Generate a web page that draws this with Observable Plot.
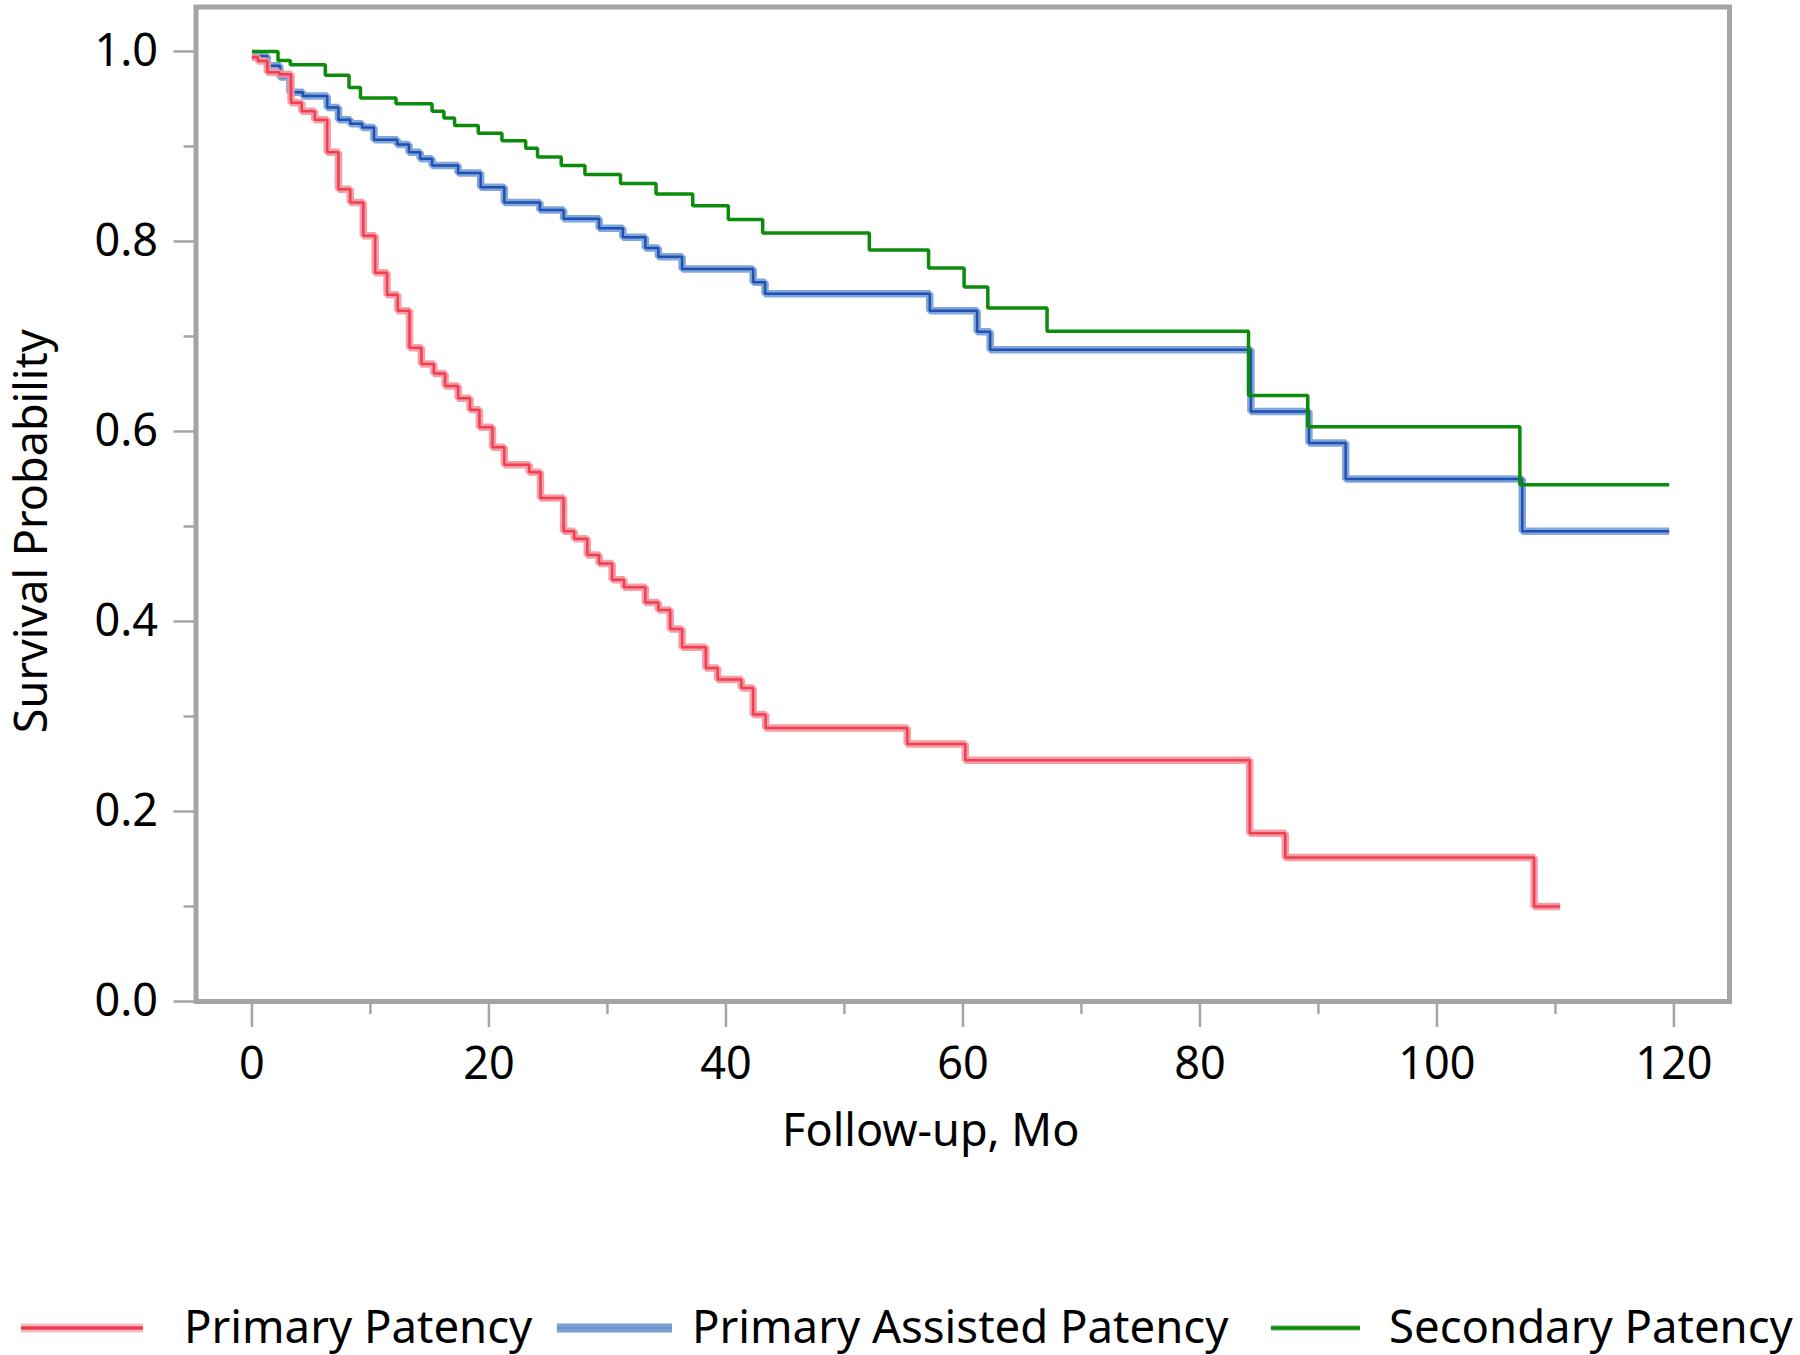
<!DOCTYPE html>
<html><head><meta charset="utf-8">
<script src="https://cdn.jsdelivr.net/npm/d3@7"></script>
<script src="https://cdn.jsdelivr.net/npm/@observablehq/plot@0.6"></script>
<style>
html,body{margin:0;padding:0;background:#fff;}
#wrap{position:relative;width:1800px;height:1355px;font-family:"Noto Sans",sans-serif;overflow:hidden;}
#chart{position:absolute;left:0;top:0;}
#legend{position:absolute;left:0;top:1260px;}
</style></head><body><div id="wrap"><div id="chart"></div><svg id="legend" width="1800" height="95"></svg></div>
<script>
// ---- data ----
const seriesNames = ["Primary Patency", "Primary Assisted Patency", "Secondary Patency"];

const primaryTime = [0, 0.5, 1.3, 2.3, 3.3, 4.2, 5.3, 6.35, 7.3, 8.3, 9.4, 10.4, 11.4, 12.3, 13.3, 14.3, 15.35, 16.3, 17.4, 18.4, 19.2, 20.3, 21.3, 23.4, 24.35, 26.3, 27.2, 28.3, 29.3, 30.4, 31.4, 33.2, 34.3, 35.3, 36.3, 38.3, 39.3, 41.3, 42.3, 43.35, 55.3, 60.2, 84.2, 87.2, 108.2, 110.4];
const primarySurv = [0.994, 0.990, 0.978, 0.976, 0.946, 0.937, 0.928, 0.894, 0.855, 0.841, 0.806, 0.767, 0.744, 0.727, 0.688, 0.671, 0.661, 0.648, 0.635, 0.623, 0.6045, 0.5835, 0.565, 0.557, 0.530, 0.495, 0.487, 0.470, 0.461, 0.444, 0.436, 0.420, 0.412, 0.392, 0.373, 0.351, 0.339, 0.330, 0.302, 0.288, 0.271, 0.254, 0.177, 0.1515, 0.100, 0.100];

const assistedTime = [0, 1.3, 2.36, 3.2, 4.3, 6.35, 7.3, 8.3, 9.3, 10.3, 12.26, 13.25, 14.2, 15.2, 17.4, 19.3, 21.3, 24.3, 26.3, 29.3, 31.3, 33.2, 34.3, 36.3, 42.3, 43.3, 57.2, 61.2, 62.3, 84.3, 89.2, 92.3, 107.2, 119.6];
const assistedSurv = [0.995, 0.985, 0.973, 0.957, 0.953, 0.941, 0.928, 0.924, 0.920, 0.907, 0.902, 0.894, 0.887, 0.880, 0.872, 0.857, 0.841, 0.833, 0.824, 0.814, 0.8045, 0.793, 0.784, 0.771, 0.757, 0.745, 0.727, 0.705, 0.686, 0.621, 0.588, 0.550, 0.495, 0.495];

const secondaryTime = [0, 2.2, 3.24, 6.19, 8.19, 9.16, 12.16, 15.2, 16.2, 17.1, 19.1, 21.1, 23.1, 24.1, 26.1, 28.1, 31.1, 34.1, 37.2, 40.2, 43.1, 52.1, 57.1, 60.1, 62.1, 67.1, 84.1, 89.1, 107.0, 119.6];
const secondarySurv = [1.0, 0.9905, 0.986, 0.975, 0.962, 0.951, 0.945, 0.937, 0.930, 0.922, 0.914, 0.906, 0.898, 0.889, 0.880, 0.8705, 0.861, 0.850, 0.8375, 0.823, 0.809, 0.791, 0.772, 0.752, 0.730, 0.7055, 0.638, 0.605, 0.544, 0.544];

const xMajorTicks = [0, 20, 40, 60, 80, 100, 120];
const xMinorTicks = [10, 30, 50, 70, 90, 110];
const yMajorTicks = [0, 0.2, 0.4, 0.6, 0.8, 1.0];
const yMinorTicks = [0.1, 0.3, 0.5, 0.7, 0.9];
const xTitle = "Follow-up, Mo";
const yTitle = "Survival Probability";

// ---- build ----
const rows = (times, surv, name) => times.map((t, i) => ({t, s: surv[i], series: name}));
const primary = rows(primaryTime, primarySurv, seriesNames[0]);
const assisted = rows(assistedTime, assistedSurv, seriesNames[1]);
const secondary = rows(secondaryTime, secondarySurv, seriesNames[2]);

const gray = "#a4a4a4";
const font = '"Noto Sans", sans-serif';
const stepLine = (data, stroke, w, op = 1) => Plot.line(data, {
  x: "t", y: "s", curve: "step-after", stroke, strokeWidth: w, strokeOpacity: op,
  strokeLinejoin: "miter", strokeLinecap: "butt"
});

const chart = Plot.plot({
  width: 1800, height: 1180,
  marginLeft: 195.5, marginRight: 71, marginTop: 6.5, marginBottom: 179,
  style: {fontFamily: font, background: "white", color: "black", overflow: "visible"},
  x: {domain: [-4.72, 124.69]},
  y: {domain: [0, 1.0468]},
  marks: [
    Plot.axisX({ticks: xMajorTicks, tickSize: 26, tickPadding: 20, fontSize: 45, stroke: gray, strokeWidth: 2.5, fill: "black", label: null}),
    Plot.axisX({ticks: xMinorTicks, tickSize: 13, tickFormat: () => "", stroke: gray, strokeWidth: 2.5, label: null}),
    Plot.axisY({ticks: yMajorTicks, tickSize: 22, tickPadding: 16, fontSize: 45, tickFormat: d3.format(".1f"), stroke: gray, strokeWidth: 2.5, fill: "black", label: null}),
    Plot.axisY({ticks: yMinorTicks, tickSize: 12, tickFormat: () => "", stroke: gray, strokeWidth: 2.5, label: null}),
    stepLine(assisted, "#7ba1d6", 7.5, 0.95),
    stepLine(assisted, "#1448b0", 2.5, 0.9),
    stepLine(primary, "#f5939e", 7.5, 0.9),
    stepLine(primary, "#ef3447", 2.5, 0.9),
    stepLine(secondary, "#0c8c0c", 3.5),
    Plot.frame({stroke: gray, strokeWidth: 5}),
    Plot.text([yTitle], {text: d => d, frameAnchor: "left", dx: -163, dy: 27, rotate: -90, textAnchor: "middle", lineAnchor: "middle", fontSize: 45, fill: "black"}),
    Plot.text([xTitle], {text: d => d, frameAnchor: "bottom", dx: -32, dy: 130, textAnchor: "middle", lineAnchor: "middle", fontSize: 45, fill: "black"})
  ]
});
document.getElementById("chart").appendChild(chart);

// ---- legend ----
const legendItems = [
  {name: seriesNames[0], x0: 21, x1: 143, tx: 184, layers: [{c: "#f9bcc3", w: 9}, {c: "#ee3a4d", w: 3.5}]},
  {name: seriesNames[1], x0: 557, x1: 672, tx: 692, layers: [{c: "#7ba1d6", w: 9}, {c: "#6a92cf", w: 2}]},
  {name: seriesNames[2], x0: 1271, x1: 1360, tx: 1389, layers: [{c: "#5fb35f", w: 5}, {c: "#0c8c0c", w: 3}]}
];
const lg = d3.select("#legend");
const cy = 68;
legendItems.forEach(it => {
  it.layers.forEach(l => lg.append("line").attr("x1", it.x0).attr("x2", it.x1).attr("y1", cy).attr("y2", cy)
    .attr("stroke", l.c).attr("stroke-width", l.w));
  lg.append("text").attr("x", it.tx).attr("y", 83).attr("font-family", font).attr("font-size", 45.5)
    .attr("fill", "black").text(it.name);
});
</script></body></html>
